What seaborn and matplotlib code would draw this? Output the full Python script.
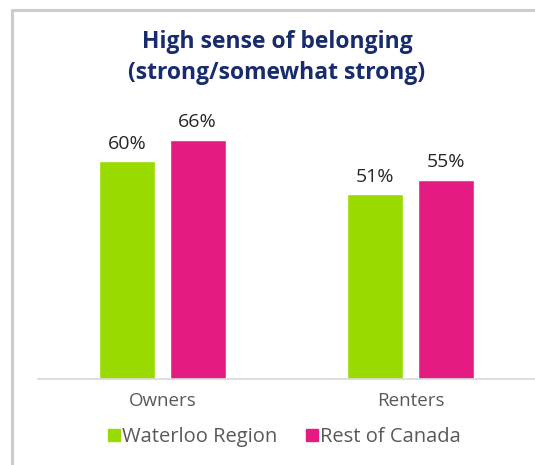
import pandas as pd
import numpy as np
import matplotlib.pyplot as plt
import seaborn as sns
from matplotlib.lines import Line2D

groups = ['Owners', 'Renters']
regions = ['Waterloo Region', 'Rest of Canada']
waterloo = [60, 51]
rest_of_canada = [66, 55]
colors = ['#99DA00', '#E41C82']

df = pd.DataFrame({
    'group': groups * 2,
    'region': [regions[0]] * 2 + [regions[1]] * 2,
    'value': waterloo + rest_of_canada,
})

sns.set_style('white')
plt.rcParams['font.family'] = ['Open Sans', 'DejaVu Sans']

fig = plt.figure(figsize=(5.35, 4.65), dpi=100)
ax = fig.add_axes([38 / 535, 86 / 465, 497 / 535, 290 / 465])

sns.barplot(data=df, x='group', y='value', hue='region', hue_order=regions,
            palette=colors, width=0.57, gap=0.21, saturation=1, ax=ax, legend=False)

for cont in ax.containers:
    ax.bar_label(cont, labels=['%d%%' % v for v in cont.datavalues],
                 padding=6, fontsize=14, color='#262626')

ax.set_xlim(-0.5, 1.5)
ax.set_ylim(0, 80)
ax.set_xlabel('')
ax.set_ylabel('')
ax.set_yticks([])
ax.tick_params(axis='x', length=0, labelsize=13.5, labelcolor='#595959', pad=9)
for s in ['top', 'right', 'left']:
    ax.spines[s].set_visible(False)
ax.spines['bottom'].set_color('#D9D9D9')
ax.spines['bottom'].set_linewidth(1.2)

handles = [Line2D([], [], marker='s', linestyle='', markersize=8,
                  markerfacecolor=c, markeredgecolor=c) for c in colors]
fig.legend(handles, regions, loc='center', bbox_to_anchor=(284 / 535, 1 - 437 / 465),
           ncol=2, frameon=False, fontsize=14.5, labelcolor='#595959',
           handletextpad=0.05, columnspacing=1.4, handlelength=0.7)

fig.text(277 / 535, 1 - 42 / 465, 'High sense of belonging', ha='center', va='center',
         fontsize=16.5, fontweight='bold', color='#172B6E')
fig.text(277 / 535, 1 - 73 / 465, '(strong/somewhat strong)', ha='center', va='center',
         fontsize=16.5, fontweight='bold', color='#172B6E')

# frame lines on the left and top
fig.add_artist(Line2D([12 / 535, 12 / 535], [0, 1 - 10 / 465], color='#CCCCCC', linewidth=2.2))
fig.add_artist(Line2D([12 / 535, 1], [1 - 10 / 465, 1 - 10 / 465], color='#CCCCCC', linewidth=2.2))

fig.savefig('out.png', dpi=100)
